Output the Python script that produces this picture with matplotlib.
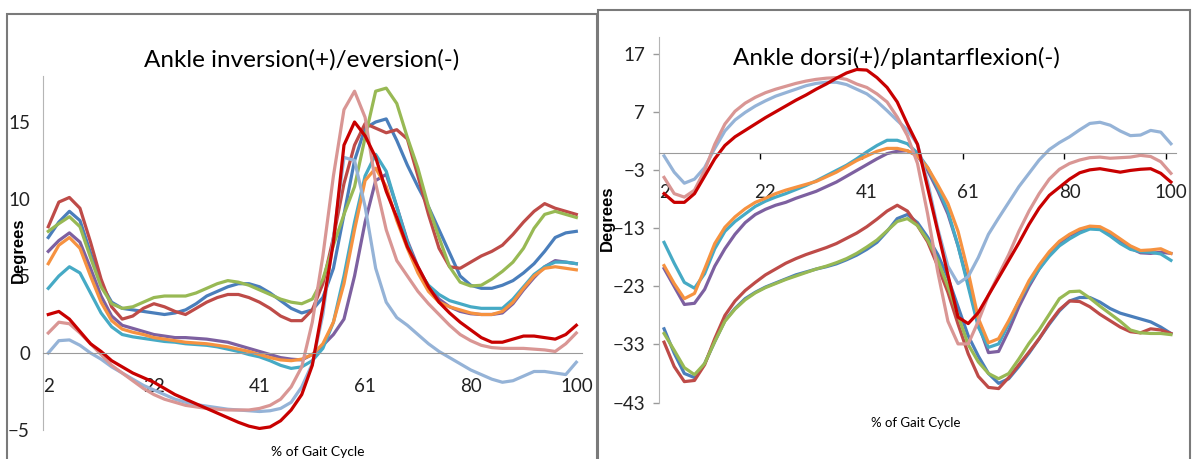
import numpy as np
import matplotlib.pyplot as plt
from matplotlib.patches import Rectangle

# humanist sans, closest installed face to the Calibri look of the original
plt.rcParams['font.family'] = ['Lato', 'DejaVu Sans']

# 51 samples over the gait cycle (2 .. 100 %)
pct = np.linspace(2, 100, 51)
xtick_labels = ['2', '22', '41', '61', '80', '100']

colors = ['#4A7EBB', '#BE4B48', '#98B954', '#7D60A0', '#46AAC5',
          '#F69240', '#95B3D7', '#D99694', '#C80000']

# Ankle inversion(+)/eversion(-)
inv_blue = [7.5, 8.5, 9.2, 8.6, 6.5, 4.5, 3.3, 2.9, 2.8, 2.7, 2.6,
            2.5, 2.6, 2.8, 3.2, 3.7, 4.0, 4.3, 4.5, 4.5, 4.3,
            3.9, 3.4, 2.9, 2.6, 2.8, 3.6, 5.5, 9.0, 12.5, 14.6,
            15.0, 15.2, 13.8, 12.2, 10.8, 9.5, 8.0, 6.5, 5.0, 4.4,
            4.2, 4.2, 4.4, 4.7, 5.2, 5.8, 6.6, 7.5, 7.8, 7.9]
inv_brown = [8.2, 9.8, 10.1, 9.4, 7.2, 4.8, 3.0, 2.2, 2.4, 2.9, 3.2,
             3.0, 2.7, 2.5, 2.9, 3.3, 3.6, 3.8, 3.8, 3.6, 3.3,
             2.9, 2.4, 2.1, 2.1, 2.8, 4.5, 7.5, 11.0, 13.5, 14.9,
             14.6, 14.3, 14.5, 13.9, 11.5, 9.0, 6.8, 5.6, 5.5, 5.9,
             6.3, 6.6, 7.0, 7.7, 8.5, 9.2, 9.7, 9.4, 9.2, 9.0]
inv_green = [7.9, 8.4, 8.85, 8.2, 6.2, 4.3, 3.2, 2.9, 3.0, 3.3, 3.6,
             3.7, 3.7, 3.7, 3.9, 4.2, 4.5, 4.7, 4.6, 4.4, 4.1,
             3.8, 3.5, 3.3, 3.2, 3.5, 4.8, 7.0, 9.0, 10.8, 14.0,
             17.0, 17.2, 16.2, 14.0, 12.0, 9.5, 7.5, 5.6, 4.6, 4.35,
             4.4, 4.8, 5.3, 5.9, 6.8, 8.1, 9.0, 9.2, 9.0, 8.8]
inv_purple = [6.6, 7.3, 7.8, 7.2, 5.5, 3.7, 2.4, 1.8, 1.6, 1.4, 1.2,
              1.1, 1.0, 1.0, 0.95, 0.9, 0.8, 0.7, 0.5, 0.3, 0.1,
              -0.1, -0.3, -0.4, -0.45, -0.1, 0.5, 1.2, 2.2, 5.0, 8.5,
              11.2, 11.6, 9.5, 7.3, 5.6, 4.3, 3.5, 3.0, 2.7, 2.55,
              2.5, 2.5, 2.6, 3.2, 4.1, 4.9, 5.6, 6.0, 5.9, 5.8]
inv_aqua = [4.2, 5.0, 5.6, 5.2, 3.9, 2.6, 1.7, 1.2, 1.05, 0.95, 0.85,
            0.75, 0.7, 0.6, 0.55, 0.5, 0.4, 0.25, 0.1, -0.1, -0.25,
            -0.5, -0.8, -1.0, -0.9, -0.5, 0.3, 2.0, 5.0, 8.5, 11.5,
            12.9, 11.8, 9.5, 7.2, 5.4, 4.4, 3.8, 3.4, 3.2, 3.0,
            2.9, 2.9, 2.9, 3.5, 4.3, 5.1, 5.6, 5.9, 5.9, 5.8]
inv_orange = [5.8, 7.0, 7.5, 6.8, 5.0, 3.3, 2.1, 1.55, 1.35, 1.2, 1.0,
              0.9, 0.8, 0.7, 0.65, 0.6, 0.5, 0.4, 0.25, 0.1, -0.1,
              -0.3, -0.45, -0.5, -0.4, -0.1, 0.6, 2.0, 4.5, 8.0, 11.2,
              12.0, 10.8, 8.6, 6.8, 5.2, 4.0, 3.3, 3.0, 2.8, 2.6,
              2.5, 2.5, 2.7, 3.3, 4.2, 5.0, 5.5, 5.6, 5.5, 5.4]
inv_lightblue = [0.0, 0.8, 0.85, 0.5, 0.0, -0.4, -0.9, -1.3, -1.7, -2.1, -2.4,
                 -2.7, -3.0, -3.2, -3.35, -3.45, -3.55, -3.65, -3.7, -3.75, -3.8,
                 -3.75, -3.6, -3.2, -2.2, -0.7, 2.5, 7.5, 12.7, 12.5, 9.5,
                 5.5, 3.3, 2.3, 1.8, 1.2, 0.6, 0.1, -0.3, -0.7, -1.1,
                 -1.4, -1.7, -1.9, -1.8, -1.5, -1.2, -1.2, -1.3, -1.4, -0.6]
inv_pink = [1.3, 2.0, 1.9, 1.3, 0.6, -0.1, -0.8, -1.3, -1.8, -2.3, -2.7,
            -3.0, -3.2, -3.4, -3.5, -3.6, -3.65, -3.7, -3.7, -3.7, -3.6,
            -3.4, -3.0, -2.2, -0.9, 2.0, 6.3, 11.5, 15.8, 17.0, 15.3,
            11.0, 8.0, 6.0, 5.0, 4.0, 3.2, 2.5, 1.8, 1.2, 0.8,
            0.5, 0.35, 0.3, 0.3, 0.3, 0.25, 0.2, 0.1, 0.6, 1.3]
inv_red = [2.5, 2.7, 2.2, 1.4, 0.6, 0.1, -0.5, -0.9, -1.3, -1.6, -1.9,
           -2.3, -2.7, -3.0, -3.3, -3.6, -3.9, -4.2, -4.5, -4.75, -4.9,
           -4.8, -4.4, -3.7, -2.7, -0.8, 3.0, 7.2, 13.5, 15.0, 14.1,
           12.7, 10.5, 8.8, 6.9, 5.6, 4.3, 3.3, 2.6, 2.0, 1.5,
           1.0, 0.7, 0.7, 0.9, 1.1, 1.1, 1.0, 0.9, 1.2, 1.8]

# Ankle dorsi(+)/plantarflexion(-)
dor_blue = [-30.3, -34.5, -38.0, -38.7, -36.3, -32.5, -28.9, -26.8, -25.1, -24.0, -23.1,
            -22.4, -21.7, -21.0, -20.5, -20.0, -19.6, -19.1, -18.4, -17.6, -16.6,
            -15.4, -13.5, -11.3, -10.6, -12.0, -14.5, -17.5, -21.5, -26.5, -31.5,
            -35.0, -38.0, -39.7, -38.9, -36.8, -34.5, -32.0, -29.5, -27.2, -25.5,
            -24.9, -24.9, -25.7, -26.8, -27.6, -28.1, -28.6, -29.1, -30.0, -31.1]
dor_brown = [-32.6, -36.8, -39.4, -39.2, -36.5, -32.0, -28.0, -25.5, -23.7, -22.3, -21.0,
             -20.0, -19.0, -18.2, -17.5, -16.9, -16.3, -15.6, -14.7, -13.8, -12.7,
             -11.4, -10.0, -9.0, -10.0, -12.5, -15.3, -19.5, -24.0, -29.5, -34.6,
             -38.5, -40.4, -40.6, -38.7, -36.5, -34.3, -32.0, -29.3, -27.0, -25.5,
             -25.6, -26.5, -27.8, -28.9, -30.0, -30.8, -31.0, -30.3, -30.5, -31.1]
dor_green = [-31.1, -34.0, -37.0, -38.2, -36.3, -32.5, -29.0, -26.9, -25.3, -24.1, -23.2,
             -22.5, -21.8, -21.2, -20.6, -20.0, -19.5, -18.9, -18.2, -17.3, -16.2,
             -15.0, -13.4, -11.8, -11.3, -12.5, -15.0, -18.5, -23.0, -28.0, -33.0,
             -36.0, -38.0, -38.9, -38.0, -35.5, -32.8, -30.5, -27.8, -25.1, -23.9,
             -23.8, -25.0, -26.4, -27.7, -29.0, -30.5, -31.0, -31.1, -31.1, -31.3]
dor_purple = [-19.9, -23.0, -26.1, -25.9, -23.5, -19.5, -16.5, -14.0, -12.0, -10.6, -9.7,
              -9.0, -8.5, -7.8, -7.2, -6.6, -5.8, -5.0, -4.0, -3.0, -2.0,
              -1.0, -0.1, 0.3, 0.4, -0.5, -3.0, -6.5, -10.5, -16.0, -22.5,
              -29.5, -34.4, -34.2, -30.6, -26.5, -23.0, -20.0, -17.5, -15.5, -14.2,
              -13.5, -12.9, -12.9, -14.0, -15.3, -16.4, -17.2, -17.3, -17.1, -17.3]
dor_aqua = [-15.4, -19.0, -22.3, -23.3, -20.8, -16.5, -13.5, -11.8, -10.5, -9.2, -8.3,
            -7.6, -7.0, -6.3, -5.6, -4.8, -3.9, -3.0, -2.1, -1.0, 0.2,
            1.3, 2.2, 2.2, 1.6, 0.0, -2.5, -6.0, -10.0, -16.0, -23.0,
            -30.0, -33.5, -32.9, -29.4, -25.5, -22.5, -20.0, -17.8, -16.0, -14.8,
            -13.8, -13.1, -13.2, -14.3, -15.6, -16.6, -17.0, -17.1, -17.4, -18.5]
dor_orange = [-19.4, -22.5, -25.1, -24.2, -20.0, -15.6, -12.8, -11.0, -9.6, -8.5, -7.8,
              -7.0, -6.4, -5.9, -5.4, -4.9, -4.1, -3.3, -2.3, -1.3, -0.5,
              0.3, 0.8, 0.8, 0.4, -0.5, -2.5, -5.5, -8.7, -13.5, -20.5,
              -28.5, -32.7, -32.0, -28.9, -25.5, -22.0, -19.3, -17.0, -15.2, -14.0,
              -13.1, -12.6, -12.7, -13.6, -14.8, -16.0, -16.8, -16.7, -16.5, -17.3]
dor_lightblue = [-0.5, -3.3, -5.2, -4.5, -2.5, 0.8, 3.8, 5.7, 7.0, 8.1, 9.0,
                 9.8, 10.4, 11.0, 11.6, 12.0, 12.2, 12.2, 11.8, 11.0, 10.2,
                 8.9, 7.3, 5.6, 4.0, 1.5, -5.0, -13.0, -19.5, -22.5, -21.3,
                 -18.0, -14.0, -11.2, -8.5, -5.8, -3.5, -1.2, 0.6, 1.8, 2.8,
                 4.0, 5.1, 5.3, 4.8, 3.8, 3.0, 3.1, 3.9, 3.6, 1.6]
dor_pink = [-4.2, -7.0, -7.6, -6.4, -3.0, 1.5, 5.0, 7.2, 8.6, 9.6, 10.4,
            11.0, 11.5, 12.0, 12.4, 12.7, 12.9, 13.0, 12.7, 11.9, 11.3,
            10.2, 8.8, 6.2, 3.0, -1.8, -10.5, -20.5, -29.0, -32.9, -32.9,
            -29.0, -24.5, -21.0, -17.5, -13.5, -10.0, -7.0, -4.5, -2.8, -1.8,
            -1.2, -0.8, -0.7, -0.9, -0.8, -0.7, -0.4, -0.6, -1.5, -3.5]
dor_red = [-7.0, -8.5, -8.5, -7.0, -4.0, -1.0, 1.3, 2.8, 3.9, 5.0, 6.1,
           7.1, 8.1, 9.1, 10.0, 11.0, 11.9, 12.9, 13.8, 14.4, 14.3,
           13.0, 11.3, 8.8, 5.0, 1.5, -6.0, -13.5, -21.0, -28.3, -29.4,
           -27.5, -24.5, -21.5, -18.5, -15.5, -12.3, -9.5, -7.3, -5.9, -4.5,
           -3.4, -2.9, -2.7, -3.0, -3.3, -3.0, -2.8, -2.7, -3.5, -5.0]

inv_series = [inv_blue, inv_brown, inv_green, inv_purple, inv_aqua,
              inv_orange, inv_lightblue, inv_pink, inv_red]
dor_series = [dor_blue, dor_brown, dor_green, dor_purple, dor_aqua,
              dor_orange, dor_lightblue, dor_pink, dor_red]

W, H = 1193, 459
fig = plt.figure(figsize=(W / 100, H / 100), dpi=100)

# chart frames (bottom runs off the picture)
fig.add_artist(Rectangle((7 / W, -0.05), 590 / W, 1.05 - 14 / H, transform=fig.transFigure,
                         fill=False, edgecolor='#7a7a7a', lw=1.5))
fig.add_artist(Rectangle((598 / W, -0.05), 592 / W, 1.05 - 10 / H, transform=fig.transFigure,
                         fill=False, edgecolor='#7a7a7a', lw=1.5))

ax1 = fig.add_axes([43 / W, (H - 430) / H, 538.6 / W, 354.2 / H])
ax2 = fig.add_axes([659 / W, (H - 402.5) / H, 517 / W, 365.5 / H])

for ax, data in [(ax1, inv_series), (ax2, dor_series)]:
    for vals, c in zip(data, colors):
        ax.plot(pct, vals, color=c, lw=2.3, solid_joinstyle='round')
    ax.set_xlim(pct[0] - 0.98, pct[-1] + 0.98)
    ax.patch.set_alpha(0)
    ax.spines['top'].set_visible(False)
    ax.spines['right'].set_visible(False)
    ax.spines['bottom'].set_position(('data', 0))
    ax.spines['bottom'].set_color('#9a9a9a')
    ax.spines['left'].set_color('#b5b5b5')
    ax.set_xticks(pct[::10], xtick_labels)
    ax.tick_params(axis='both', labelsize=13.5, colors='#9a9a9a', labelcolor='#222222')

ax1.set_ylim(-5, 18)
ax1.set_yticks([-5, 0, 5, 10, 15])
ax1.tick_params(axis='x', length=0, pad=18)
ax1.tick_params(axis='y', length=0, pad=9.4)

ax2.set_ylim(-43, 20)
ax2.set_yticks([-43, -33, -23, -13, -3, 7, 17])
ax2.set_xticks(pct[9::10] + 0.98, minor=True)
ax2.tick_params(axis='x', which='major', length=0, pad=22)
ax2.tick_params(axis='x', which='minor', length=4, width=1, direction='out')
ax2.tick_params(axis='y', length=4, width=1, pad=6)

fig.text(302 / W, 1 - 67 / H, 'Ankle inversion(+)/eversion(-)', ha='center', va='baseline', fontsize=17.5)
fig.text(896 / W, 1 - 65 / H, 'Ankle dorsi(+)/plantarflexion(-)', ha='center', va='baseline', fontsize=17.5)

fig.text(318 / W, 1 - 452 / H, '% of Gait Cycle', ha='center', va='center', fontsize=10)
fig.text(916 / W, 1 - 423 / H, '% of Gait Cycle', ha='center', va='center', fontsize=9.5)

fig.text(18 / W, 1 - 250 / H, 'Degrees', rotation=90, ha='center', va='center',
         fontsize=12, fontweight='bold', family=['Liberation Sans', 'DejaVu Sans'])
fig.text(607 / W, 1 - 218 / H, 'Degrees', rotation=90, ha='center', va='center',
         fontsize=12, fontweight='bold', family=['Liberation Sans', 'DejaVu Sans'])

fig.savefig('out.png', dpi=100)
